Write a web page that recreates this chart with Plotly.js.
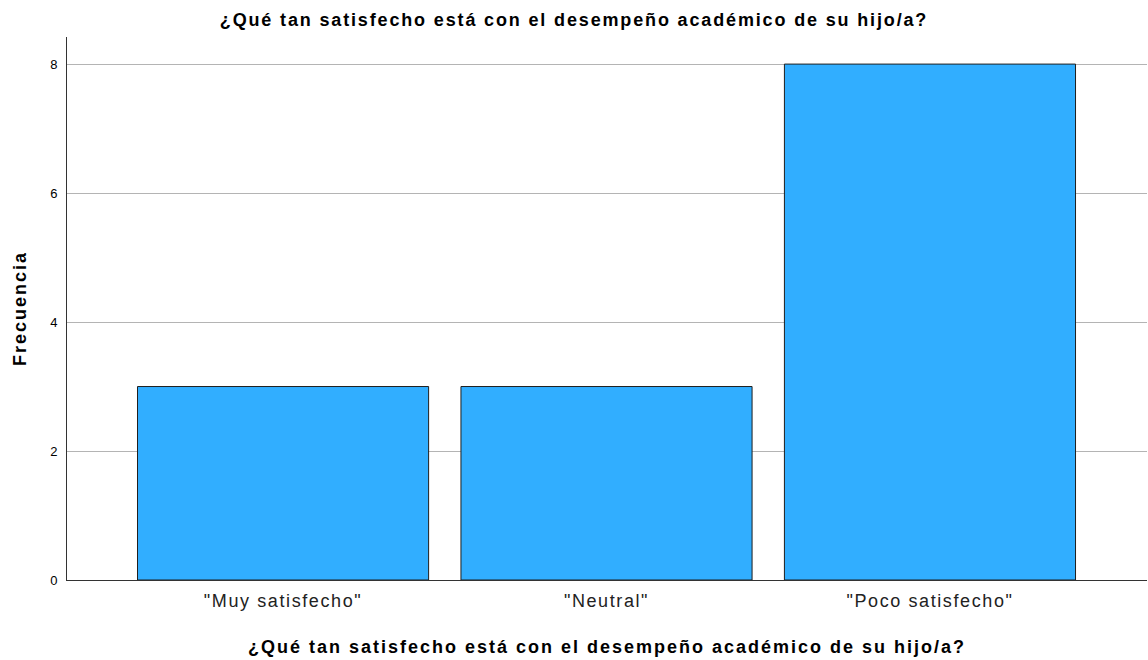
<!DOCTYPE html>
<html>
<head>
<meta charset="utf-8">
<script src="https://cdn.plot.ly/plotly-3.0.1.min.js"></script>
<style>
html,body{margin:0;padding:0;background:#fff;}
#chart{width:1148px;height:660px;}
#chart .gtitle {letter-spacing: 1.85px;}
#chart .xtitle, #chart .ytitle {letter-spacing: 2px;}
#chart .xtick text {letter-spacing: 1.6px;}
</style>
</head>
<body>
<div id="chart"></div>
<script>
const categories = ['"Muy satisfecho"', '"Neutral"', '"Poco satisfecho"'];
const frequencies = [3, 3, 8];
const yTicks = [0, 2, 4, 6, 8];
const titleText = '¿Qué tan satisfecho está con el desempeño académico de su hijo/a?';

const trace = {
  type: 'bar',
  x: [0, 1, 2],
  y: frequencies,
  width: 0.9,
  marker: {color: '#31aeff', line: {color: '#1f1f1f', width: 1}},
  hoverinfo: 'x+y'
};

const layout = {
  width: 1148, height: 660,
  margin: {l: 67, r: 1, t: 37, b: 80, pad: 0},
  paper_bgcolor: '#fff', plot_bgcolor: '#fff',
  font: {family: 'Liberation Sans, Arial, sans-serif', color: '#000'},
  title: {text: titleText, font: {size: 18, weight: 'bold', color: '#000'}, x: 0.5, xanchor: 'center', y: 0.97, yanchor: 'middle'},
  showlegend: false,
  bargap: 0.1,
  xaxis: {
    range: [-0.668, 2.671],
    tickvals: [0, 1, 2], ticktext: categories,
    tickfont: {size: 18, color: '#222'},
    ticks: 'outside', ticklen: 4, tickcolor: 'rgba(0,0,0,0)',
    showgrid: false, zeroline: false,
    showline: true, linecolor: '#333', linewidth: 1,
    title: {text: titleText, font: {size: 18, weight: 'bold', color: '#000'}, standoff: 30}
  },
  yaxis: {
    range: [0, 8.42],
    tickvals: yTicks, ticktext: yTicks.map(String),
    tickfont: {size: 13, color: '#000'},
    ticks: 'outside', ticklen: 6, tickcolor: 'rgba(0,0,0,0)',
    showgrid: true, gridcolor: '#b4b4b4', gridwidth: 1,
    zeroline: false,
    showline: true, linecolor: '#333', linewidth: 1,
    title: {text: 'Frecuencia', font: {size: 18, weight: 'bold', color: '#000'}, standoff: 18}
  }
};

Plotly.newPlot('chart', [trace], layout, {displayModeBar: false, staticPlot: true});
</script>
</body>
</html>
